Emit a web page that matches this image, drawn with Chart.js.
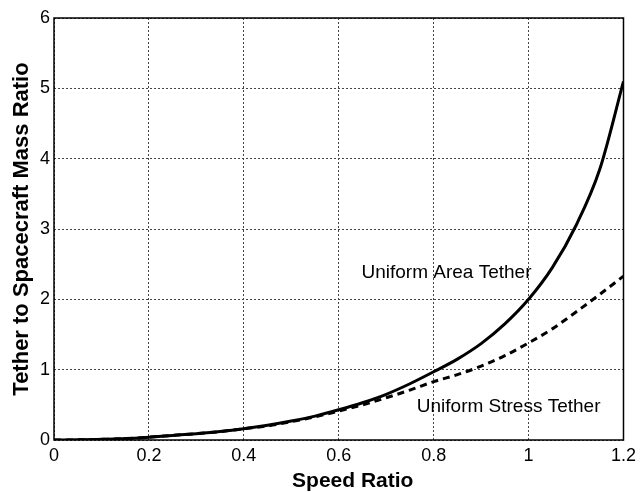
<!DOCTYPE html>
<html>
<head>
<meta charset="utf-8">
<script src="https://cdn.jsdelivr.net/npm/chart.js@4"></script>
<style>
  html, body { margin: 0; padding: 0; background: #fff; }
  #wrap { width: 641px; height: 492px; }
</style>
</head>
<body>
<div id="wrap"><canvas id="massChart" width="641" height="492"></canvas></div>
<script>
// speed ratio samples and the two mass-ratio curves
const speedRatio = [0, 0.05, 0.1, 0.15, 0.2, 0.25, 0.3, 0.35, 0.4, 0.45, 0.5, 0.55, 0.6,
  0.65, 0.7, 0.75, 0.8, 0.85, 0.9, 0.95, 1.0, 1.05, 1.1, 1.15, 1.2];
const uniformArea = [0, 0.002, 0.01, 0.02, 0.04, 0.065, 0.09, 0.12, 0.16, 0.21, 0.27, 0.34, 0.43,
  0.53, 0.65, 0.8, 0.97, 1.15, 1.37, 1.65, 2.0, 2.45, 3.05, 3.85, 5.1];
const uniformStress = [0, 0.002, 0.01, 0.02, 0.04, 0.065, 0.09, 0.12, 0.16, 0.2, 0.26, 0.33, 0.41,
  0.5, 0.6, 0.71, 0.83, 0.93, 1.05, 1.2, 1.38, 1.58, 1.82, 2.07, 2.33];
const xTicks = [0, 0.2, 0.4, 0.6, 0.8, 1, 1.2];
const yTicks = [0, 1, 2, 3, 4, 5, 6];
const labels = [
  { text: 'Uniform Area Tether', x: 0.827, y: 2.38 },
  { text: 'Uniform Stress Tether', x: 0.958, y: 0.47 }
];
const xTitle = 'Speed Ratio';

const FONT = '"Liberation Sans", Arial, sans-serif';
const toPoints = ys => speedRatio.map((x, i) => ({ x: x, y: ys[i] }));

// border box, curve labels and the x title (sits a bit right of centre in the original)
const extras = {
  id: 'extras',
  afterDraw(chart) {
    const { ctx, chartArea: a, scales } = chart;
    ctx.save();
    ctx.strokeStyle = '#000';
    ctx.lineWidth = 1.5;
    ctx.strokeRect(a.left, a.top, a.right - a.left, a.bottom - a.top);
    ctx.fillStyle = '#000';
    ctx.font = '19px ' + FONT;
    ctx.textAlign = 'center';
    ctx.textBaseline = 'middle';
    labels.forEach(l => {
      ctx.fillText(l.text, scales.x.getPixelForValue(l.x), scales.y.getPixelForValue(l.y));
    });
    ctx.font = 'bold 21px ' + FONT;
    ctx.fillText(xTitle, (a.left + a.right) / 2 + 14, chart.height - 11);
    ctx.restore();
  }
};

new Chart(document.getElementById('massChart').getContext('2d'), {
  type: 'line',
  data: {
    datasets: [
      {
        label: 'Uniform Area Tether',
        data: toPoints(uniformArea),
        borderColor: '#000',
        borderWidth: 3,
        pointRadius: 0,
        cubicInterpolationMode: 'monotone'
      },
      {
        label: 'Uniform Stress Tether',
        data: toPoints(uniformStress),
        borderColor: '#000',
        borderWidth: 3,
        borderDash: [7, 5],
        pointRadius: 0,
        cubicInterpolationMode: 'monotone'
      }
    ]
  },
  options: {
    responsive: false,
    animation: false,
    layout: { padding: { top: 18, right: 17 } },
    plugins: { legend: { display: false }, tooltip: { enabled: false } },
    scales: {
      x: {
        type: 'linear',
        min: 0, max: 1.2,
        afterBuildTicks: s => { s.ticks = xTicks.map(v => ({ value: v })); },
        afterFit: s => { s.height = 52; },
        grid: { color: '#444', lineWidth: 1, drawTicks: false },
        border: { display: false, dash: [2, 2] },
        ticks: {
          color: '#000', padding: 5, maxRotation: 0,
          font: { family: FONT, size: 18 },
          callback: v => String(+v.toFixed(1))
        }
      },
      y: {
        type: 'linear',
        min: 0, max: 6,
        afterBuildTicks: s => { s.ticks = yTicks.map(v => ({ value: v })); },
        afterFit: s => { s.width = 54; },
        grid: { color: '#444', lineWidth: 1, drawTicks: false },
        border: { display: false, dash: [2, 2] },
        ticks: {
          color: '#000', padding: 4,
          font: { family: FONT, size: 18 }
        },
        title: {
          display: true, text: 'Tether to Spacecraft Mass Ratio', color: '#000', padding: { top: 9, bottom: 0 },
          font: { family: FONT, size: 22, weight: 'bold', lineHeight: 1.2 }
        }
      }
    }
  },
  plugins: [extras]
});
</script>
</body>
</html>
